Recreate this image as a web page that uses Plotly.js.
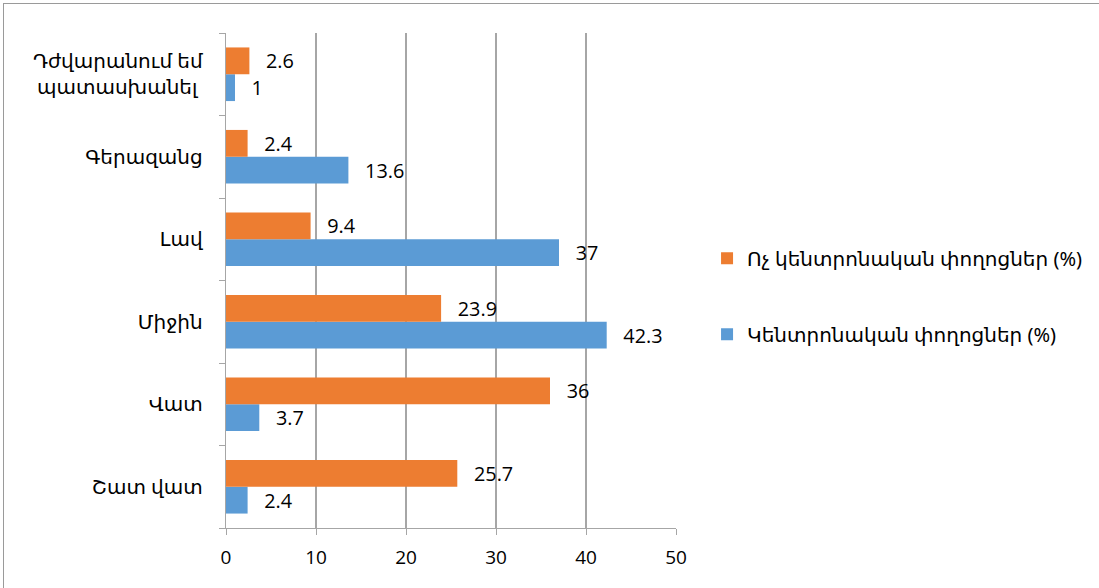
<!DOCTYPE html>
<html><head><meta charset="utf-8">
<script src="https://cdn.plot.ly/plotly-3.0.1.min.js"></script>
<style>
html,body{margin:0;padding:0;background:#fff;overflow:hidden}
#frame{position:absolute;left:3px;top:3px;width:1200px;height:700px;border-top:1.5px solid #9a9a9a;border-left:1.5px solid #9a9a9a;pointer-events:none;z-index:5}
#chart{position:absolute;left:0;top:0;width:1099px;height:588px}
</style></head>
<body>
<div id="chart"></div><div id="frame"></div>
<script>
const categories = ["Շատ վատ", "Վատ", "Միջին", "Լավ", "Գերազանց", "Դժվարանում եմ<br>պատասխանել "];
const centralValues = [2.4, 3.7, 42.3, 37, 13.6, 1];
const nonCentralValues = [25.7, 36, 23.9, 9.4, 2.4, 2.6];
const centralName = "Կենտրոնական փողոցներ (%)";
const nonCentralName = "Ոչ կենտրոնական փողոցներ (%)";
const xTicks = [0, 10, 20, 30, 40, 50];

const labelFont = {family: "Open Sans, Liberation Sans, sans-serif", size: 20, color: "#000"};
const armFont = {family: "Noto Sans, DejaVu Sans, sans-serif", size: 20, color: "#000"};

const traces = [
  {type: "bar", orientation: "h", y: categories, x: centralValues, name: centralName,
   marker: {color: "#5b9bd5"}, texttemplate: "  \u2009%{x}", textposition: "outside",
   textfont: labelFont, cliponaxis: false, legendgroup: "b", legendrank: 2, hoverinfo: "x"},
  {type: "bar", orientation: "h", y: categories, x: nonCentralValues, name: nonCentralName,
   marker: {color: "#ed7d31"}, texttemplate: "  \u2009%{x}", textposition: "outside",
   textfont: labelFont, cliponaxis: false, legendgroup: "a", legendrank: 1, hoverinfo: "x"}
];

const layout = {
  width: 1099, height: 588,
  margin: {l: 226, r: 421, t: 33, b: 60},
  paper_bgcolor: "#fff", plot_bgcolor: "#fff",
  barmode: "group", bargap: 0.35, bargroupgap: 0,
  showlegend: true,
  legend: {x: 1.069, y: 0.468, xanchor: "left", yanchor: "middle",
    traceorder: "grouped", tracegroupgap: 47,
    font: armFont, itemwidth: 30},
  xaxis: {range: [0, 50], tickvals: xTicks, ticktext: xTicks.map(String),
    showgrid: true, gridcolor: "#a6a6a6", gridwidth: 1.3,
    showline: true, linecolor: "#a6a6a6", linewidth: 1.3,
    ticks: "outside", ticklen: 6, tickcolor: "#a6a6a6",
    ticklabelstandoff: 6,
    tickfont: {family: "Open Sans, Liberation Sans, sans-serif", size: 19, color: "#000"},
    zeroline: false, fixedrange: true},
  yaxis: {type: "category", categoryarray: categories, categoryorder: "array",
    showgrid: false, showline: true, linecolor: "#a6a6a6", linewidth: 1.3,
    ticks: "outside", tickson: "boundaries", ticklen: 6, tickcolor: "#a6a6a6",
    ticklabelstandoff: 18,
    tickfont: armFont,
    fixedrange: true}
};

Plotly.newPlot("chart", traces, layout, {displayModeBar: false, staticPlot: true});
</script>
</body></html>
